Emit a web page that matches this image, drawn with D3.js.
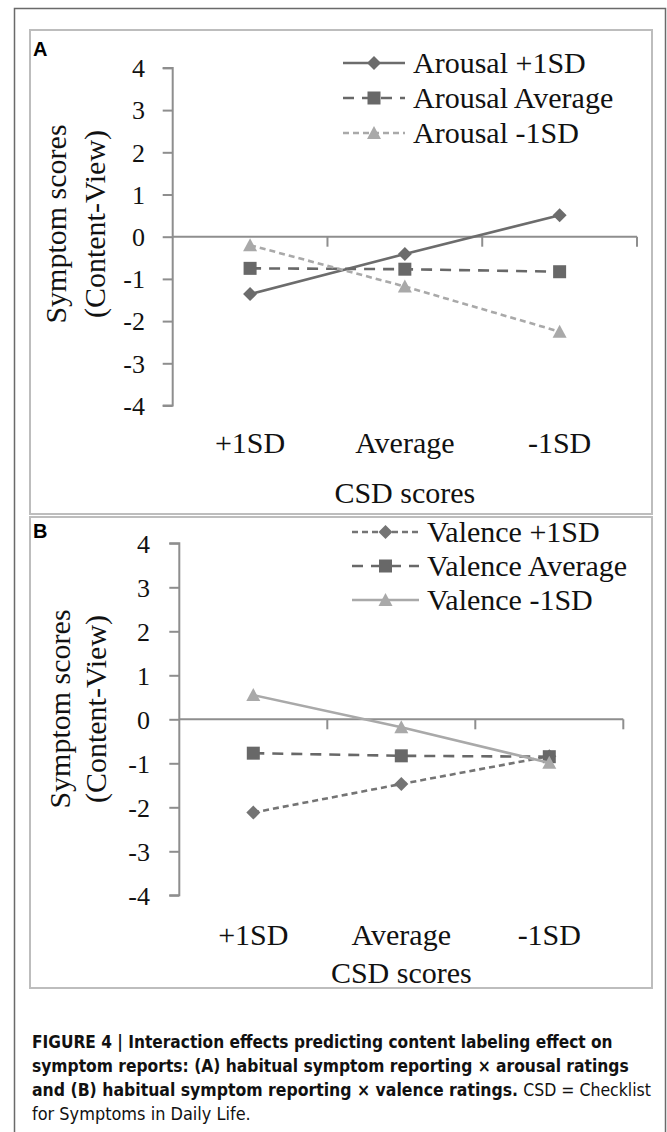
<!DOCTYPE html>
<html>
<head>
<meta charset="utf-8">
<script src="https://cdn.jsdelivr.net/npm/d3@7"></script>
<style>
  html, body { margin: 0; padding: 0; background: #fff; }
  svg { display: block; }
</style>
</head>
<body>
<svg id="chart" width="667" height="1132"></svg>
<script>
// data
const categories = ['+1SD', 'Average', '-1SD'];
const yTicks = [4, 3, 2, 1, 0, -1, -2, -3, -4];

const arousalLabels = ['Arousal +1SD', 'Arousal Average', 'Arousal -1SD'];
const arousalHigh = [-1.36, -0.41, 0.51];
const arousalAvg = [-0.75, -0.77, -0.83];
const arousalLow = [-0.20, -1.18, -2.25];

const valenceLabels = ['Valence +1SD', 'Valence Average', 'Valence -1SD'];
const valenceHigh = [-2.12, -1.47, -0.84];
const valenceAvg = [-0.77, -0.83, -0.85];
const valenceLow = [0.55, -0.18, -0.99];

const captionLines = [
  [{ t: 'FIGURE 4 | Interaction effects predicting content labeling effect on', b: true }],
  [{ t: 'symptom reports: (A) habitual symptom reporting × arousal ratings', b: true }],
  [{ t: 'and (B) habitual symptom reporting × valence ratings.', b: true }, { t: 'CSD = Checklist', b: false }],
  [{ t: 'for Symptoms in Daily Life.', b: false }]
];

const serif = '"Liberation Serif", "Times New Roman", serif';
const sans = '"Liberation Sans", Arial, sans-serif';
const narrow = '"Liberation Sans Narrow", "DejaVu Sans Condensed", "Liberation Sans", sans-serif';

const dark = '#6c6c6c', light = '#a9a9a9', axisCol = '#8e8e8e';

// style per series: line colour, dash, marker
const styleA = [
  { color: dark, dash: null, marker: 'diamond' },
  { color: '#686868', dash: '11,8', marker: 'square' },
  { color: light, dash: '6,4', marker: 'triangle' }
];
const styleB = [
  { color: '#747474', dash: '6,4', marker: 'diamond' },
  { color: '#686868', dash: '11,8', marker: 'square' },
  { color: light, dash: null, marker: 'triangle' }
];

const panels = [
  {
    tag: 'A', series: [arousalHigh, arousalAvg, arousalLow], labels: arousalLabels, styles: styleA,
    box: [30, 30, 652, 514], x0: 172.7, x1: 637, zero: 236.7, unit: 42.2, tickRight: 145,
    catY: 453, titleY: 503, legX: [343, 405, 413], legRows: [63, 98, 133],
    yTitleX: [66, 105], yTitleY: 224, tagY: 56
  },
  {
    tag: 'B', series: [valenceHigh, valenceAvg, valenceLow], labels: valenceLabels, styles: styleB,
    box: [30, 517, 652, 988], x0: 179.3, x1: 623.3, zero: 719.3, unit: 44, tickRight: 150,
    catY: 945, titleY: 983, legX: [352, 419, 427], legRows: [532, 566, 600],
    yTitleX: [70, 106], yTitleY: 709, tagY: 538
  }
];

const svg = d3.select('#chart');

// outer frame
svg.append('rect')
  .attr('x', 14.5).attr('y', 8.5)
  .attr('width', 651).attr('height', 1140)
  .attr('fill', 'none').attr('stroke', '#6a6a6a').attr('stroke-width', 1.5);

function drawMarker(g, type, x, y, color) {
  if (type === 'diamond') {
    g.append('path')
      .attr('d', `M${x},${y - 7}L${x + 7},${y}L${x},${y + 7}L${x - 7},${y}Z`)
      .attr('fill', color);
  } else if (type === 'square') {
    g.append('rect')
      .attr('x', x - 6.5).attr('y', y - 6.5)
      .attr('width', 13).attr('height', 13)
      .attr('fill', color);
  } else {
    g.append('path')
      .attr('d', `M${x},${y - 7}L${x + 7},${y + 6}L${x - 7},${y + 6}Z`)
      .attr('fill', color);
  }
}

panels.forEach(p => {
  const g = svg.append('g');

  // panel box
  g.append('rect')
    .attr('x', p.box[0]).attr('y', p.box[1])
    .attr('width', p.box[2] - p.box[0]).attr('height', p.box[3] - p.box[1])
    .attr('fill', '#fff').attr('stroke', '#bdbdbd').attr('stroke-width', 2);

  g.append('text')
    .attr('x', p.box[0] + 3).attr('y', p.tagY)
    .attr('font-family', sans).attr('font-weight', 'bold').attr('font-size', '20px')
    .attr('fill', '#000')
    .text(p.tag);

  const x = d3.scaleBand().domain(categories).range([p.x0, p.x1]).padding(0);
  const y = d3.scaleLinear().domain([-4, 4]).range([p.zero + 4 * p.unit, p.zero - 4 * p.unit]);
  const cx = c => x(c) + x.bandwidth() / 2;

  // y axis
  const yAxis = g.append('g')
    .attr('transform', `translate(${p.x0},0)`)
    .call(d3.axisLeft(y).tickValues(yTicks).tickSize(10).tickFormat(''));
  yAxis.selectAll('path, line').attr('stroke', axisCol).attr('stroke-width', 2);
  yAxis.select('.domain').attr('d', `M-10,${y(4)}H0V${y(-4)}H-10`);

  g.selectAll('text.ytick')
    .data(yTicks)
    .join('text')
    .attr('class', 'ytick')
    .attr('x', p.tickRight)
    .attr('y', d => y(d))
    .attr('dy', '0.36em')
    .attr('text-anchor', 'end')
    .attr('font-family', serif).attr('font-size', '26px').attr('fill', '#111')
    .text(d => d);

  // x axis at zero, tick marks between categories
  const edges = categories.map(c => x(c) + x.bandwidth());
  g.append('line')
    .attr('x1', p.x0).attr('x2', p.x1)
    .attr('y1', y(0)).attr('y2', y(0))
    .attr('stroke', axisCol).attr('stroke-width', 2);
  g.selectAll('line.xtick')
    .data(edges)
    .join('line')
    .attr('class', 'xtick')
    .attr('x1', d => d).attr('x2', d => d)
    .attr('y1', y(0)).attr('y2', y(0) + 10)
    .attr('stroke', axisCol).attr('stroke-width', 2);

  g.selectAll('text.cat')
    .data(categories)
    .join('text')
    .attr('class', 'cat')
    .attr('x', d => cx(d))
    .attr('y', p.catY)
    .attr('text-anchor', 'middle')
    .attr('font-family', serif).attr('font-size', '30px').attr('fill', '#111')
    .text(d => d);

  g.append('text')
    .attr('x', (p.x0 + p.x1) / 2).attr('y', p.titleY)
    .attr('text-anchor', 'middle')
    .attr('font-family', serif).attr('font-size', '30px').attr('fill', '#111')
    .text('CSD scores');

  ['Symptom scores', '(Content-View)'].forEach((t, i) => {
    g.append('text')
      .attr('transform', `translate(${p.yTitleX[i]},${p.yTitleY}) rotate(-90)`)
      .attr('text-anchor', 'middle')
      .attr('font-family', serif).attr('font-size', '30px').attr('fill', '#111')
      .text(t);
  });

  // series
  const line = d3.line().x((d, i) => cx(categories[i])).y(d => y(d));
  p.series.forEach((vals, s) => {
    const st = p.styles[s];
    g.append('path')
      .datum(vals)
      .attr('d', line)
      .attr('fill', 'none')
      .attr('stroke', st.color)
      .attr('stroke-width', 2.6)
      .attr('stroke-dasharray', st.dash);
    vals.forEach((v, i) => drawMarker(g, st.marker, cx(categories[i]), y(v), st.color));
  });

  // legend
  p.labels.forEach((lab, i) => {
    const st = p.styles[i];
    const ry = p.legRows[i];
    g.append('line')
      .attr('x1', p.legX[0]).attr('x2', p.legX[1])
      .attr('y1', ry).attr('y2', ry)
      .attr('stroke', st.color).attr('stroke-width', 2.6)
      .attr('stroke-dasharray', st.dash);
    drawMarker(g, st.marker, (p.legX[0] + p.legX[1]) / 2, ry, st.color);
    g.append('text')
      .attr('x', p.legX[2]).attr('y', ry)
      .attr('dy', '0.33em')
      .attr('font-family', serif).attr('font-size', '30px').attr('fill', '#111')
      .text(lab);
  });
});

// caption: runs laid out at natural width, then the whole line squeezed
const capWidths = [581, 597, 619, 219];
captionLines.forEach((parts, i) => {
  const lg = svg.append('g');
  let xx = 0;
  parts.forEach((pt, j) => {
    if (j > 0) xx += 5;
    const n = lg.append('text')
      .attr('x', xx).attr('y', 0)
      .attr('font-family', narrow).attr('font-size', '18px').attr('fill', '#111')
      .attr('font-weight', pt.b ? 'bold' : 'normal')
      .text(pt.t);
    xx += n.node().getComputedTextLength();
  });
  const k = capWidths[i] / xx;
  lg.attr('transform', `translate(32,${1048 + i * 24}) scale(${k},1)`);
});
</script>
</body>
</html>
